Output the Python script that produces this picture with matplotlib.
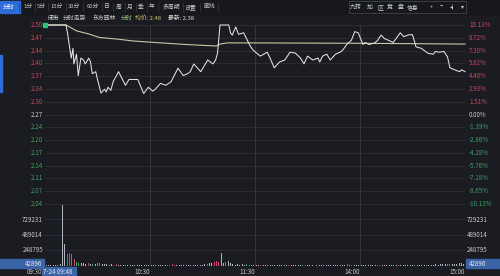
import matplotlib
matplotlib.use('Agg')
import matplotlib.pyplot as plt
import matplotlib.transforms as mtrans
from matplotlib.patches import Rectangle
import numpy as np

plt.rcParams['font.family'] = ['Noto Sans CJK SC', 'DejaVu Sans']

# ---------------- data ----------------
prev_close = 2.27
price_labels = ['2.50', '2.47', '2.44', '2.40', '2.37', '2.34', '2.30', '2.27',
                '2.24', '2.20', '2.17', '2.14', '2.11', '2.07', '2.04']
pct_labels = ['10.13%', '8.72%', '7.30%', '5.82%', '4.40%', '2.93%', '1.51%', '0.00%',
              '-1.39%', '-2.86%', '-4.28%', '-5.76%', '-7.18%', '-8.65%', '-10.13%']
vol_labels = ['729231', '489014', '248795']
vol_ticks = [729231, 489014, 248795]
time_labels = ['10:30', '11:30', '14:00', '15:00']
time_ticks = [60, 120, 180, 240]

# minutes since 09:30 (afternoon continues at 120 = 13:00)
price_t = [0, 12, 13, 15, 16, 16.5, 18, 19, 20.5, 22, 23, 25, 26, 27, 29, 30, 32, 34, 35, 36,
           37.6, 39, 41.6, 42, 46, 48, 53, 56.4, 59, 61.6, 63, 66, 69, 72, 76, 79, 81.5, 83,
           85, 89, 93, 96, 97.5, 98.6, 100, 105, 106, 107, 109, 110.6, 113.5, 115.7, 117.4,
           119, 123, 127, 128.6, 131, 134, 137, 140, 143, 146, 148, 150, 153, 156, 157, 158.6,
           161, 163, 166, 168.6, 170, 173, 175, 177, 179, 181.7, 183, 185, 188, 190, 192, 194,
           196.6, 199, 200.6, 203, 205, 208, 210, 212, 215, 219, 222, 223, 225, 228, 230,
           231.4, 234, 237, 238, 240]
price_v = [2.50, 2.50, 2.475, 2.415, 2.44, 2.40, 2.425, 2.37, 2.415, 2.41, 2.40, 2.415, 2.405,
           2.375, 2.38, 2.36, 2.325, 2.335, 2.328, 2.34, 2.332, 2.355, 2.376, 2.38, 2.345,
           2.36, 2.36, 2.324, 2.34, 2.33, 2.335, 2.35, 2.345, 2.354, 2.389, 2.37, 2.375, 2.38,
           2.40, 2.38, 2.41, 2.40, 2.41, 2.428, 2.50, 2.50, 2.48, 2.474, 2.495, 2.476, 2.48,
           2.46, 2.445, 2.435, 2.42, 2.43, 2.415, 2.39, 2.405, 2.41, 2.43, 2.428, 2.415, 2.40,
           2.42, 2.41, 2.415, 2.405, 2.42, 2.425, 2.41, 2.425, 2.43, 2.435, 2.453, 2.46, 2.483,
           2.48, 2.45, 2.455, 2.45, 2.453, 2.46, 2.474, 2.465, 2.46, 2.455, 2.465, 2.48, 2.47,
           2.475, 2.475, 2.444, 2.44, 2.427, 2.425, 2.432, 2.43, 2.432, 2.418, 2.39, 2.385,
           2.38, 2.385, 2.38]

avg_t = [0, 12, 14, 18, 25, 31, 43, 50, 63, 80, 98, 100, 104, 120, 180, 240]
avg_v = [2.50, 2.50, 2.495, 2.485, 2.477, 2.468, 2.463, 2.459, 2.455, 2.45, 2.446, 2.451,
         2.454, 2.454, 2.453, 2.451]

volumes = [
    55000, 30000, 28000, 25000, 30000, 22000, 26000, 24000, 30000, 45000,
    960000, 345000, 270000, 195000, 205000, 200000, 135000, 120000, 65000, 55000,
    60000, 48000, 52000, 45000, 40000, 50000, 38000, 42000, 35000, 40000,
    55000, 62000, 58000, 45000, 40000, 35000, 30000, 28000, 32000, 30000,
    35000, 40000, 30000, 25000, 28000, 22000, 30000, 25000, 20000, 24000,
    22000, 20000, 25000, 30000, 22000, 18000, 25000, 20000, 22000, 18000,
    20000, 25000, 18000, 22000, 20000, 24000, 18000, 20000, 22000, 25000,
    28000, 30000, 35000, 40000, 30000, 25000, 35000, 28000, 25000, 22000,
    25000, 30000, 28000, 24000, 35000, 30000, 25000, 22000, 20000, 24000,
    30000, 35000, 40000, 45000, 50000, 55000, 60000, 65000, 90000, 70000,
    125000, 215000, 60000, 70000, 125000, 90000, 50000, 40000, 35000, 30000,
    35000, 30000, 28000, 32000, 30000, 35000, 30000, 28000, 25000, 30000,
    30000, 25000, 22000, 20000, 25000, 18000, 20000, 22000, 25000, 20000,
    22000, 18000, 20000, 25000, 22000, 20000, 18000, 22000, 20000, 24000,
    20000, 18000, 22000, 20000, 16000, 18000, 20000, 22000, 18000, 20000,
    18000, 20000, 22000, 18000, 16000, 20000, 18000, 22000, 20000, 18000,
    16000, 18000, 20000, 18000, 22000, 20000, 18000, 20000, 24000, 22000,
    25000, 28000, 30000, 35000, 30000, 28000, 25000, 22000, 20000, 24000,
    20000, 22000, 25000, 20000, 18000, 22000, 20000, 18000, 22000, 25000,
    24000, 28000, 25000, 22000, 20000, 24000, 22000, 20000, 25000, 22000,
    24000, 26000, 28000, 25000, 22000, 24000, 26000, 22000, 20000, 25000,
    28000, 30000, 32000, 28000, 25000, 28000, 30000, 25000, 28000, 30000,
    32000, 28000, 30000, 35000, 32000, 30000, 38000, 40000, 35000, 38000,
    42000, 45000, 40000, 38000, 42000, 45000, 40000, 48000, 50000, 45000,
    60000]
up_minutes = [13, 14, 16, 17, 20, 25, 36, 39, 41, 70, 71, 72, 73, 74, 76, 84, 93, 96, 97,
              98, 99, 100, 104, 123, 139, 149, 172, 173, 175, 190, 191, 200, 202]
down_minutes = [12, 15, 18, 19, 27, 30, 31, 32, 46, 56, 103, 115, 117, 130, 147, 211, 218,
                230, 231]

# ---------------- style ----------------
BG = '#1b1c21'
GRID = '#2d2f37'
VGRID = '#3a3c45'
RED = '#c9465c'
GREEN = '#3f9e66'
NEUT = '#c8c8c8'

W, H = 500, 276
fig = plt.figure(figsize=(5, 2.76), dpi=100, facecolor=BG)


def fx(x):
    return x / W


def fy(y):
    return 1 - y / H


ax = fig.add_axes([fx(45), fy(204), 420 / W, 179 / H])
axv = fig.add_axes([fx(45), fy(266), 420 / W, 62 / H])
for a in (ax, axv):
    a.set_facecolor(BG)
    a.set_xlim(0, 240)
    a.set_xticks([])
    a.set_yticks([])
    for s in a.spines.values():
        s.set_visible(False)

lo, hi = prev_close - 0.23, prev_close + 0.23
ax.set_ylim(lo, hi)
levels = np.linspace(hi, lo, len(price_labels))
for lv in levels:
    ax.axhline(lv, color=GRID, lw=0.6, zorder=0)
for t in time_ticks[:-1]:
    ax.axvline(t, color=VGRID, lw=0.6, zorder=0)
    axv.axvline(t, color=VGRID, lw=0.6, zorder=0)

ax.plot(avg_t, avg_v, color='#c9c6a6', lw=0.8, zorder=2, clip_on=False)
ax.plot(price_t, price_v, color='#e2e2e2', lw=0.75, zorder=3, clip_on=False)
ax.plot([0], [price_v[0]], marker='s', ms=2.2, color='#2fc27a', zorder=4, clip_on=False)

lt = mtrans.blended_transform_factory(fig.transFigure, ax.transData)
for i, (lv, pl, cl) in enumerate(zip(levels, price_labels, pct_labels)):
    c = RED if i < 7 else (NEUT if i == 7 else GREEN)
    fig.text(fx(43), lv, pl, transform=lt, ha='right', va='center', fontsize=4.5, color=c)
    fig.text(fx(469), lv, cl, transform=lt, ha='left', va='center', fontsize=4.5, color=c)

# volume
vlo, vhi = 8577, 969449
axv.set_ylim(vlo, vhi)
for v in vol_ticks:
    axv.axhline(v, color=GRID, lw=0.6, zorder=0)
axv.axhline(vhi, color=GRID, lw=0.6, zorder=0)
mins = np.arange(len(volumes))
cols = []
for m in mins:
    if m in up_minutes:
        cols.append(RED)
    elif m in down_minutes:
        cols.append(GREEN)
    else:
        cols.append('#aeb4c2')
axv.bar(mins, volumes, width=0.5, bottom=0, color=cols, zorder=2)
vt = mtrans.blended_transform_factory(fig.transFigure, axv.transData)
for v, l in zip(vol_ticks, vol_labels):
    fig.text(fx(43), v, l, transform=vt, ha='right', va='center', fontsize=4.5, color=NEUT)
    fig.text(fx(467), v, l, transform=vt, ha='left', va='center', fontsize=4.5, color=NEUT)

# highlighted crosshair value boxes
BOX = '#3b64a8'
fig.patches.append(Rectangle((fx(0), fy(268)), 44 / W, 9 / H, transform=fig.transFigure,
                             color=BOX, zorder=5))
fig.patches.append(Rectangle((fx(466), fy(268)), 34 / W, 9 / H, transform=fig.transFigure,
                             color=BOX, zorder=5))
fig.text(fx(42), fy(263.5), '42896', ha='right', va='center', fontsize=4.5, color='#e8e8e8', zorder=6)
fig.text(fx(469), fy(263.5), '42896', ha='left', va='center', fontsize=4.5, color='#e8e8e8', zorder=6)

# x labels
xt = mtrans.blended_transform_factory(axv.transData, fig.transFigure)
for t, l in zip(time_ticks, time_labels):
    fig.text(t, fy(271.5), l, transform=xt, ha='right', va='center', fontsize=4.5, color=NEUT)
fig.text(fx(42), fy(271.5), '09:30', ha='right', va='center', fontsize=4.5, color=NEUT)
fig.patches.append(Rectangle((fx(42), fy(276)), 34 / W, 9 / H, transform=fig.transFigure,
                             color=BOX, zorder=5))
fig.text(fx(43), fy(271.5), '7-24 09:48', ha='left', va='center', fontsize=4.5, color='#e8e8e8', zorder=6)

# top toolbar
fig.patches.append(Rectangle((0, fy(14)), 1, 14 / H, transform=fig.transFigure,
                             color='#17181c', zorder=0))
fig.patches.append(Rectangle((fx(0), fy(13)), 20 / W, 12 / H, transform=fig.transFigure,
                             color='#2f6bd6', zorder=1))
tools = ['分时', '1分', '5分', '15分', '30分', '60分', '日', '周', '月', '季', '年', '多周期', '设置', '画线']
tool_x = [9, 28, 41, 57, 74, 93, 107, 119, 130, 141, 152, 171, 191, 209]
for t, x in zip(tools, tool_x):
    fig.text(fx(x), fy(7), t, ha='center', va='center', fontsize=4.2,
             color='#ffffff' if t == '分时' else '#c4c4c4', zorder=3)
for x in [19, 35, 48, 66, 83, 102, 113, 125, 136, 147, 158, 183, 200, 218]:
    fig.add_artist(plt.Line2D([fx(x), fx(x)], [fy(3), fy(11)], transform=fig.transFigure,
                              color='#3a3c44', lw=0.5))
fig.patches.append(Rectangle((fx(349), fy(13)), 117 / W, 12 / H, transform=fig.transFigure,
                             fill=False, ec='#4a4c55', lw=0.5, zorder=2))
rtools = ['九转', '加', '区', '竞', '盘', '信息', '+', '−', '◂|', '▾']
rtool_x = [356, 370, 380, 390, 401, 413, 431, 441, 452, 462]
for t, x in zip(rtools, rtool_x):
    fig.text(fx(x), fy(7), t, ha='center', va='center', fontsize=4.2, color='#d0d0d0', zorder=3)

# info line
info = [('闭市', 48, '#e8e8e8'), ('分时走势', 63, '#c8c8c8'), ('东方园林', 93, '#c8c8c8'),
        ('分时', 121, '#8fbf6f'), ('均价: 2.48', 135, '#d9c46a'), ('最新: 2.38', 168, '#e8e8e8')]
for t, x, c in info:
    fig.text(fx(x), fy(18.5), t, ha='left', va='center', fontsize=4.2, color=c, zorder=3)

# left blue side marker
fig.patches.append(Rectangle((fx(0), fy(92)), 2 / W, 37 / H, transform=fig.transFigure,
                             color='#2f6bd6', zorder=3))

fig.savefig('out.png', dpi=100, facecolor=BG)
